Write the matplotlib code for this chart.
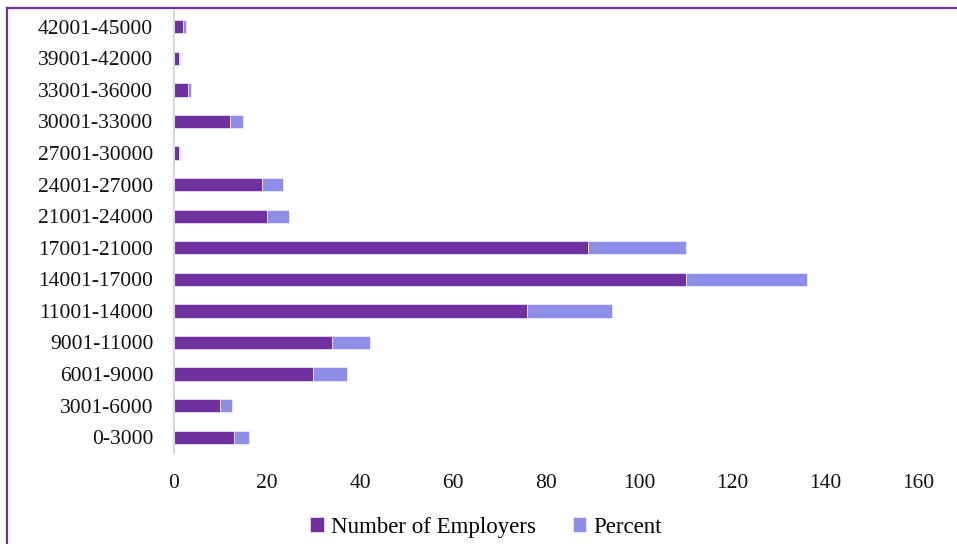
import numpy as np
import matplotlib.pyplot as plt
from matplotlib.lines import Line2D

categories = ['0-3000', '3001-6000', '6001-9000', '9001-11000', '11001-14000',
              '14001-17000', '17001-21000', '21001-24000', '24001-27000',
              '27001-30000', '30001-33000', '33001-36000', '39001-42000',
              '42001-45000']
employers = [13, 10, 30, 34, 76, 110, 89, 20, 19, 1, 12, 3, 1, 2]
percent = [3.1, 2.4, 7.1, 8.1, 18.1, 26.2, 21.2, 4.8, 4.5, 0.24, 2.9, 0.7, 0.24, 0.48]

plt.rcParams['font.family'] = ['Liberation Serif', 'DejaVu Serif']

fig = plt.figure(figsize=(9.57, 5.44), dpi=100)
ax = fig.add_axes([0.1818, 0.1673, 0.7775, 0.8125])

y = np.arange(len(categories))
ax.barh(y, employers, height=0.42, color='#7030A0', edgecolor='white', linewidth=0.4,
        label='Number of Employers')
ax.barh(y, percent, left=employers, height=0.42, color='#8E8EE8', edgecolor='white',
        linewidth=0.4, label='Percent')

ax.set_xlim(0, 160)
ax.set_ylim(-0.5, len(categories) - 0.5)
ax.set_xticks(np.arange(0, 161, 20))
ax.set_yticks(y)
ax.set_yticklabels(categories)
ax.tick_params(axis='both', length=0, labelsize=15.5, colors='#111111')
ax.tick_params(axis='x', pad=15)
ax.tick_params(axis='y', pad=15)
for s in ['top', 'right', 'bottom']:
    ax.spines[s].set_visible(False)
ax.spines['left'].set_color('#D9D9D9')
ax.spines['left'].set_linewidth(1.5)

leg = fig.legend(loc='lower center', bbox_to_anchor=(0.508, -0.026), ncol=2, frameon=False,
                 fontsize=16.5, handlelength=0.6, handleheight=0.6, handletextpad=0.3,
                 columnspacing=1.6)

# purple frame around the chart
fig.add_artist(Line2D([7 / 957, 1], [1 - 8 / 544, 1 - 8 / 544], color='#7030A0', lw=1.6,
                      transform=fig.transFigure))
fig.add_artist(Line2D([7 / 957, 7 / 957], [0, 1 - 8 / 544], color='#7030A0', lw=1.6,
                      transform=fig.transFigure))

fig.savefig('out.png', dpi=100)
